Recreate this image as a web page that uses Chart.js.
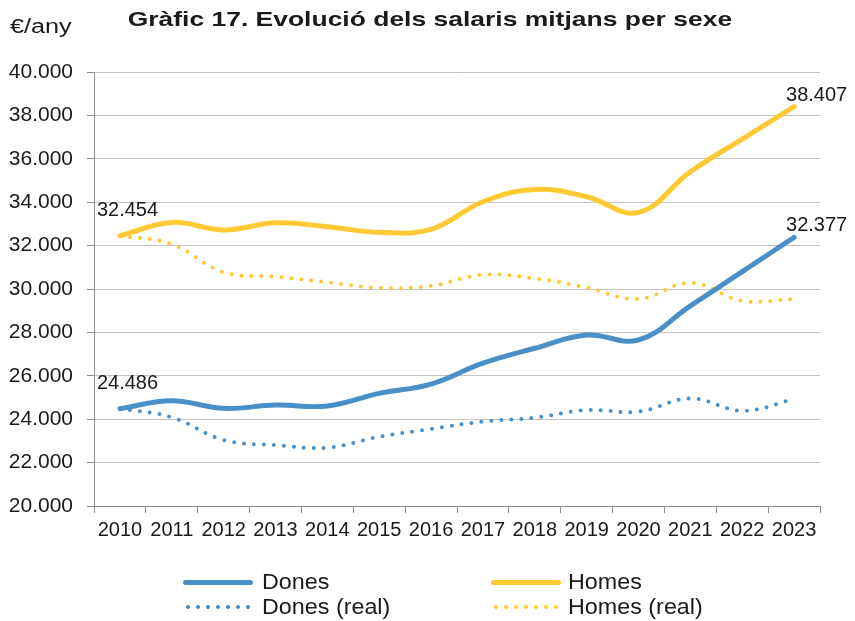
<!DOCTYPE html>
<html>
<head>
<meta charset="utf-8">
<script src="https://cdn.jsdelivr.net/npm/chart.js@4/dist/chart.umd.min.js"></script>
<style>
  body { margin: 0; background: #fff; }
  #wrap { position: relative; width: 855px; height: 621px; font-family: Arial, "Liberation Sans", sans-serif; color: #1a1a1a; }
  #myChart { position: absolute; left: 0; top: 0; }
  #title { position: absolute; left: 0; width: 860px; top: 7px; text-align: center; font-size: 21px; line-height: 24px; font-weight: bold; }
  #title span { display: inline-block; transform: scaleX(1.26); transform-origin: center; }
  #unit { position: absolute; left: 10px; top: 14px; font-size: 20px; line-height: 24px; transform: scaleX(1.26); transform-origin: left; }
  .lg-item { position: absolute; height: 24px; font-size: 22px; line-height: 24px; white-space: nowrap; }
  .lg-item .txt { display: inline-block; transform: scaleX(1.06); transform-origin: left; }
  .lg-line { position: absolute; left: 0; width: 70px; }
</style>
</head>
<body>
<div id="wrap">
  <canvas id="myChart" width="855" height="621"></canvas>
  <div id="title"><span>Gràfic 17. Evolució dels salaris mitjans per sexe</span></div>
  <div id="unit">€/any</div>
</div>
<script>
'use strict';

// data
const years = ['2010', '2011', '2012', '2013', '2014', '2015', '2016', '2017', '2018', '2019', '2020', '2021', '2022', '2023'];
const dones = [24486, 24850, 24500, 24650, 24610, 25190, 25620, 26580, 27270, 27880, 27650, 29220, 30800, 32377];
const homes = [32454, 33070, 32720, 33050, 32870, 32610, 32750, 34020, 34590, 34250, 33530, 35400, 36910, 38407];
const donesReal = [24486, 24090, 23040, 22810, 22690, 23190, 23550, 23890, 24070, 24420, 24350, 24960, 24390, 24920];
const homesReal = [32454, 32060, 30770, 30570, 30310, 30050, 30150, 30650, 30490, 30060, 29540, 30290, 29460, 29530];
const seriesNames = ['Dones', 'Homes', 'Dones (real)', 'Homes (real)'];

const blue = '#4a90c8';
const yellow = '#ffc934';

// thousands with a dot
function fmt(v) {
    return String(Math.round(v)).replace(/\B(?=(\d{3})+(?!\d))/g, '.');
}

function solid(label, values, color) {
    return {
        label: label,
        data: values,
        borderColor: color,
        backgroundColor: color,
        borderWidth: 5,
        borderCapStyle: 'round',
        pointRadius: 0,
        tension: 0.4,
        fill: false
    };
}

function dotted(label, values, color) {
    let ds = solid(label, values, color);
    ds.borderWidth = 4;
    ds.borderDash = [0, 10];
    return ds;
}

// value labels at first and last point of the solid lines
const endLabels = {
    id: 'endLabels',
    afterDatasetsDraw(chart) {
        const ctx = chart.ctx;
        ctx.save();
        ctx.font = '20px Arial, "Liberation Sans", sans-serif';
        ctx.fillStyle = '#1a1a1a';
        ctx.textAlign = 'left';
        ctx.textBaseline = 'alphabetic';
        [0, 1].forEach(function (i) {
            const meta = chart.getDatasetMeta(i);
            const vals = chart.data.datasets[i].data;
            const first = meta.data[0];
            const last = meta.data[vals.length - 1];
            ctx.fillText(fmt(vals[0]), first.x - 23, first.y - 20);
            ctx.fillText(fmt(vals[vals.length - 1]), last.x - 8, last.y - 6);
        });
        ctx.restore();
    }
};

const config = {
    type: 'line',
    data: {
        labels: years,
        datasets: [
            solid(seriesNames[0], dones, blue),
            solid(seriesNames[1], homes, yellow),
            dotted(seriesNames[2], donesReal, blue),
            dotted(seriesNames[3], homesReal, yellow)
        ]
    },
    options: {
        responsive: false,
        animation: false,
        layout: { padding: { top: 72, left: 0, right: 35, bottom: 75 } },
        plugins: {
            legend: { display: false },
            tooltip: { enabled: false }
        },
        scales: {
            x: {
                offset: true,
                grid: { offset: true, drawOnChartArea: false, tickLength: 7, color: '#8c8c8c' },
                border: { color: '#8c8c8c' },
                ticks: {
                    autoSkip: false, maxRotation: 0, padding: 5,
                    color: '#1a1a1a',
                    font: { family: 'Arial, "Liberation Sans", sans-serif', size: 20 }
                },
                afterFit(scale) { scale.height = 40; }
            },
            y: {
                min: 20000,
                max: 40000,
                grid: { color: '#c4c4c4', tickLength: 7, tickColor: '#8c8c8c' },
                border: { color: '#8c8c8c' },
                ticks: {
                    stepSize: 2000, padding: 14,
                    color: '#1a1a1a',
                    font: { family: 'Arial, "Liberation Sans", sans-serif', size: 21 },
                    callback: function (v) { return fmt(v); }
                },
                afterFit(scale) { scale.width = 94; }
            }
        }
    },
    plugins: [endLabels]
};

let myChart = new Chart(document.getElementById('myChart'), config);

// legend, two columns
let wrap = document.getElementById('wrap');
const legendX = [183, 491];
const legendY = [570, 595];
for (let i = 0; i < myChart.data.datasets.length; i++) {
    let ds = myChart.data.datasets[i];
    let item = document.createElement('div');
    item.className = 'lg-item';
    item.style.left = legendX[i % 2] + 'px';
    item.style.top = legendY[Math.floor(i / 2)] + 'px';
    item.style.paddingLeft = (i % 2 === 0 ? 79 : 77) + 'px';

    let line = document.createElement('span');
    line.className = 'lg-line';
    if (ds.borderDash) {
        line.style.top = '10px';
        line.style.height = '4px';
        line.style.background = 'radial-gradient(circle, ' + ds.borderColor + ' 1.6px, transparent 2.2px) 0 0 / 10px 4px repeat-x';
    } else {
        line.style.top = '10px';
        line.style.height = '5px';
        line.style.borderRadius = '3px';
        line.style.background = ds.borderColor;
    }
    item.appendChild(line);

    let txt = document.createElement('span');
    txt.className = 'txt';
    txt.textContent = ds.label;
    item.appendChild(txt);
    wrap.appendChild(item);
}
</script>
</body>
</html>
